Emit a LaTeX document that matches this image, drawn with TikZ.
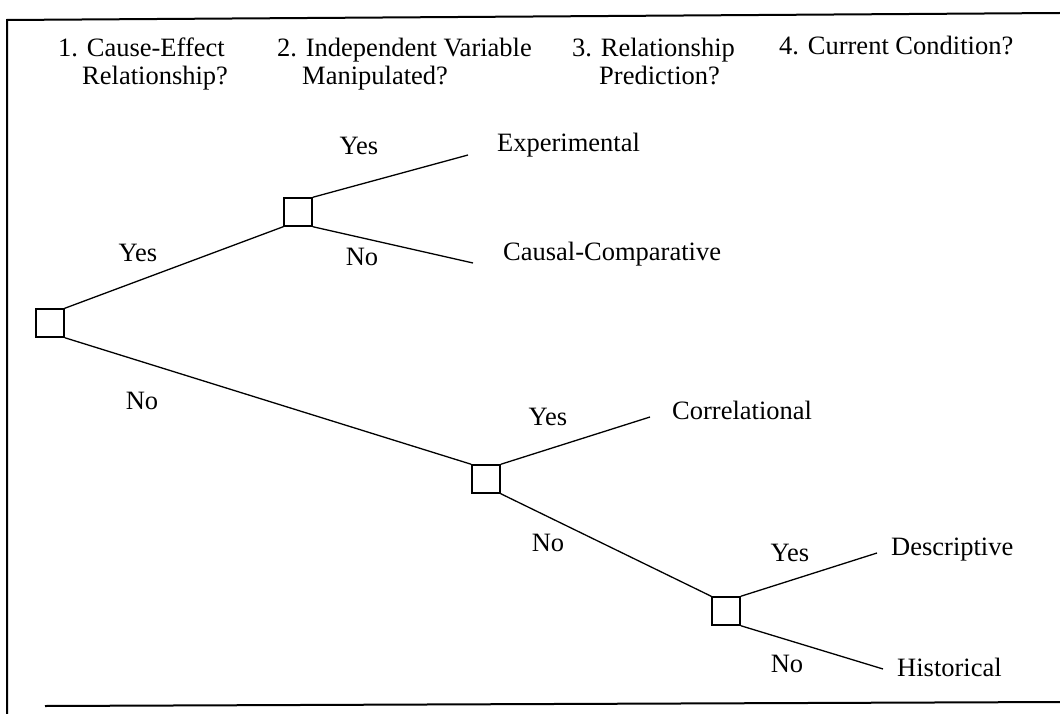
\documentclass[tikz,border=0pt]{standalone}
\usepackage{fontspec}
\setmainfont{Liberation Serif}
\begin{document}
\begin{tikzpicture}[x=1pt,y=-1pt,
  every node/.style={font=\fontsize{26.5}{31}\selectfont, inner sep=0pt},
  dbox/.style={draw, line width=1.4pt, minimum size=28pt, inner sep=0pt},
  branch/.style={line width=1.3pt},
  frameline/.style={line width=2pt},
  lbl/.style={anchor=center},
  txt/.style={anchor=west},
  hdr/.style={anchor=base west}]
\useasboundingbox (0,0) rectangle (1060,714);
% frame
\draw[frameline] (7,714) -- (7,20) -- (1060,13);
\draw[frameline] (45,706) -- (1060,702);
% headers
\node[hdr] (h1a) at (58,57) {1. Cause-Effect};
\node[hdr] (h1b) at (82,85) {Relationship?};
\node[hdr] (h2a) at (277,57) {2. Independent Variable};
\node[hdr] (h2b) at (302,85) {Manipulated?};
\node[hdr] (h3a) at (572,57) {3. Relationship};
\node[hdr] (h3b) at (599,85) {Prediction?};
\node[hdr] (h4) at (779,55) {4. Current Condition?};
% decision boxes
\node[dbox] (b1) at (50,323) {};
\node[dbox] (b2) at (298,212) {};
\node[dbox] (b3) at (486,479) {};
\node[dbox] (b4) at (726,611) {};
% leaf ends
\coordinate (e1) at (468,155);
\coordinate (e2) at (473,263);
\coordinate (e3) at (650,417);
\coordinate (e4) at (877,553);
\coordinate (e5) at (883,669);
% branches
\draw[branch] (b1.north east) -- (b2.south west);
\draw[branch] (b1.south east) -- (b3.north west);
\draw[branch] (b2.north east) -- (e1);
\draw[branch] (b2.south east) -- (e2);
\draw[branch] (b3.north east) -- (e3);
\draw[branch] (b3.south east) -- (b4.north west);
\draw[branch] (b4.north east) -- (e4);
\draw[branch] (b4.south east) -- (e5);
% branch labels
\node[lbl] (y1) at (138,253) {Yes};
\node[lbl] (n1) at (142,401) {No};
\node[lbl] (y2) at (359,146) {Yes};
\node[lbl] (n2) at (362,257) {No};
\node[lbl] (y3) at (548,417) {Yes};
\node[lbl] (n3) at (548,543) {No};
\node[lbl] (y4) at (790,553) {Yes};
\node[lbl] (n4) at (787,664) {No};
% outcomes
\node[txt] (o1) at (497,145) {Experimental};
\node[txt] (o2) at (503,254) {Causal-Comparative};
\node[txt] (o3) at (672,410) {Correlational};
\node[txt] (o4) at (891,550) {Descriptive};
\node[txt] (o5) at (897,667) {Historical};
\end{tikzpicture}
\end{document}
